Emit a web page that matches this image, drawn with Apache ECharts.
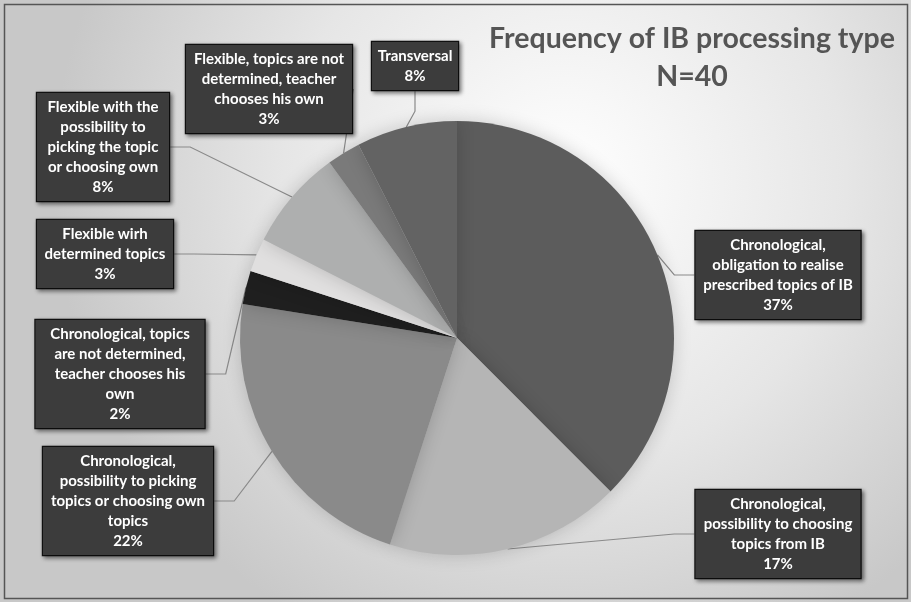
<!DOCTYPE html>
<html>
<head>
<meta charset="utf-8">
<script src="https://cdn.jsdelivr.net/npm/echarts@6/dist/echarts.min.js"></script>
<style>
html,body{margin:0;padding:0;background:#fff;}
#chart{width:911px;height:602px;}
</style>
</head>
<body>
<div id="chart"></div>
<script>
// ---- data ----
const categories = [
  "Chronological,\nobligation to realise\nprescribed topics of IB",
  "Chronological,\npossibility to choosing\ntopics from IB",
  "Chronological,\npossibility to picking\ntopics or choosing own\ntopics",
  "Chronological, topics\nare not determined,\nteacher chooses his\nown",
  "Flexible wirh\ndetermined topics",
  "Flexible with the\npossibility to\npicking the topic\nor choosing own",
  "Flexible, topics are not\ndetermined, teacher\nchooses his own",
  "Transversal"
];
const counts = [15, 7, 9, 1, 1, 3, 1, 3];           // N = 40
const percentLabels = ["37%", "17%", "22%", "2%", "3%", "8%", "3%", "8%"];
const titleText = "Frequency of IB processing type";
const subtitleText = "N=40";

// ---- styling / layout (not data) ----
const sliceColors = ["#5c5c5c", "#b5b5b5", "#8a8a8a", "#1f1f1f", "#e0dfdf", "#aeafaf", "#7a7a7a", "#636363"];
const labelBoxes = [ // center x, center y, box width
  [778, 275, 165],
  [778, 534, 165],
  [128, 501, 170],
  [120, 374, 169],
  [105, 254, 136],
  [103, 147, 132],
  [269, 89, 166],
  [415, 66, 86]
];

const chart = echarts.init(document.getElementById('chart'), null, {renderer: 'canvas'});

const data = categories.map((name, i) => ({
  name: name,
  value: counts[i],
  itemStyle: {color: sliceColors[i]},
  label: {width: labelBoxes[i][2] - 8}
}));

chart.setOption({
  animation: false,
  backgroundColor: {
    type: 'radial', x: 0.62, y: 0.3, r: 0.85,
    colorStops: [
      {offset: 0, color: '#ffffff'},
      {offset: 0.55, color: '#e6e6e6'},
      {offset: 1, color: '#c8c8c8'}
    ]
  },
  title: {
    text: titleText + "\n" + subtitleText,
    left: 687, top: 15, textAlign: 'center',
    textStyle: {fontFamily: 'Lato', fontWeight: 'bold', fontSize: 28.5, lineHeight: 38, color: '#555555'}
  },
  graphic: [{
    type: 'rect', silent: true, z: 100,
    shape: {x: 4.5, y: 4.5, width: 903, height: 594},
    style: {fill: null, stroke: '#555', lineWidth: 1.5}
  }],
  series: [{
    type: 'pie',
    center: [457, 338],
    radius: 217,
    startAngle: 90,
    clockwise: true,
    data: data,
    itemStyle: {borderWidth: 0, shadowBlur: 18, shadowColor: 'rgba(0,0,0,0.18)'},
    label: {
      show: true,
      formatter: p => p.name + "\n" + percentLabels[p.dataIndex],
      fontFamily: 'Lato', fontWeight: 'bold', fontSize: 15, lineHeight: 20,
      color: '#ffffff', align: 'center',
      backgroundColor: '#3c3c3c', borderColor: '#111', borderWidth: 1.2,
      padding: [4, 4],
      shadowBlur: 4, shadowColor: 'rgba(0,0,0,0.45)', shadowOffsetX: 2, shadowOffsetY: 2
    },
    labelLine: {show: true, length: 20, length2: 20, lineStyle: {color: '#8a8a8a', width: 1.2}},
    labelLayout: function (params) {
      const b = labelBoxes[params.dataIndex];
      return {x: b[0], y: b[1], align: 'center', verticalAlign: 'middle', moveOverlap: null, hideOverlap: false};
    }
  }]
});
</script>
</body>
</html>
